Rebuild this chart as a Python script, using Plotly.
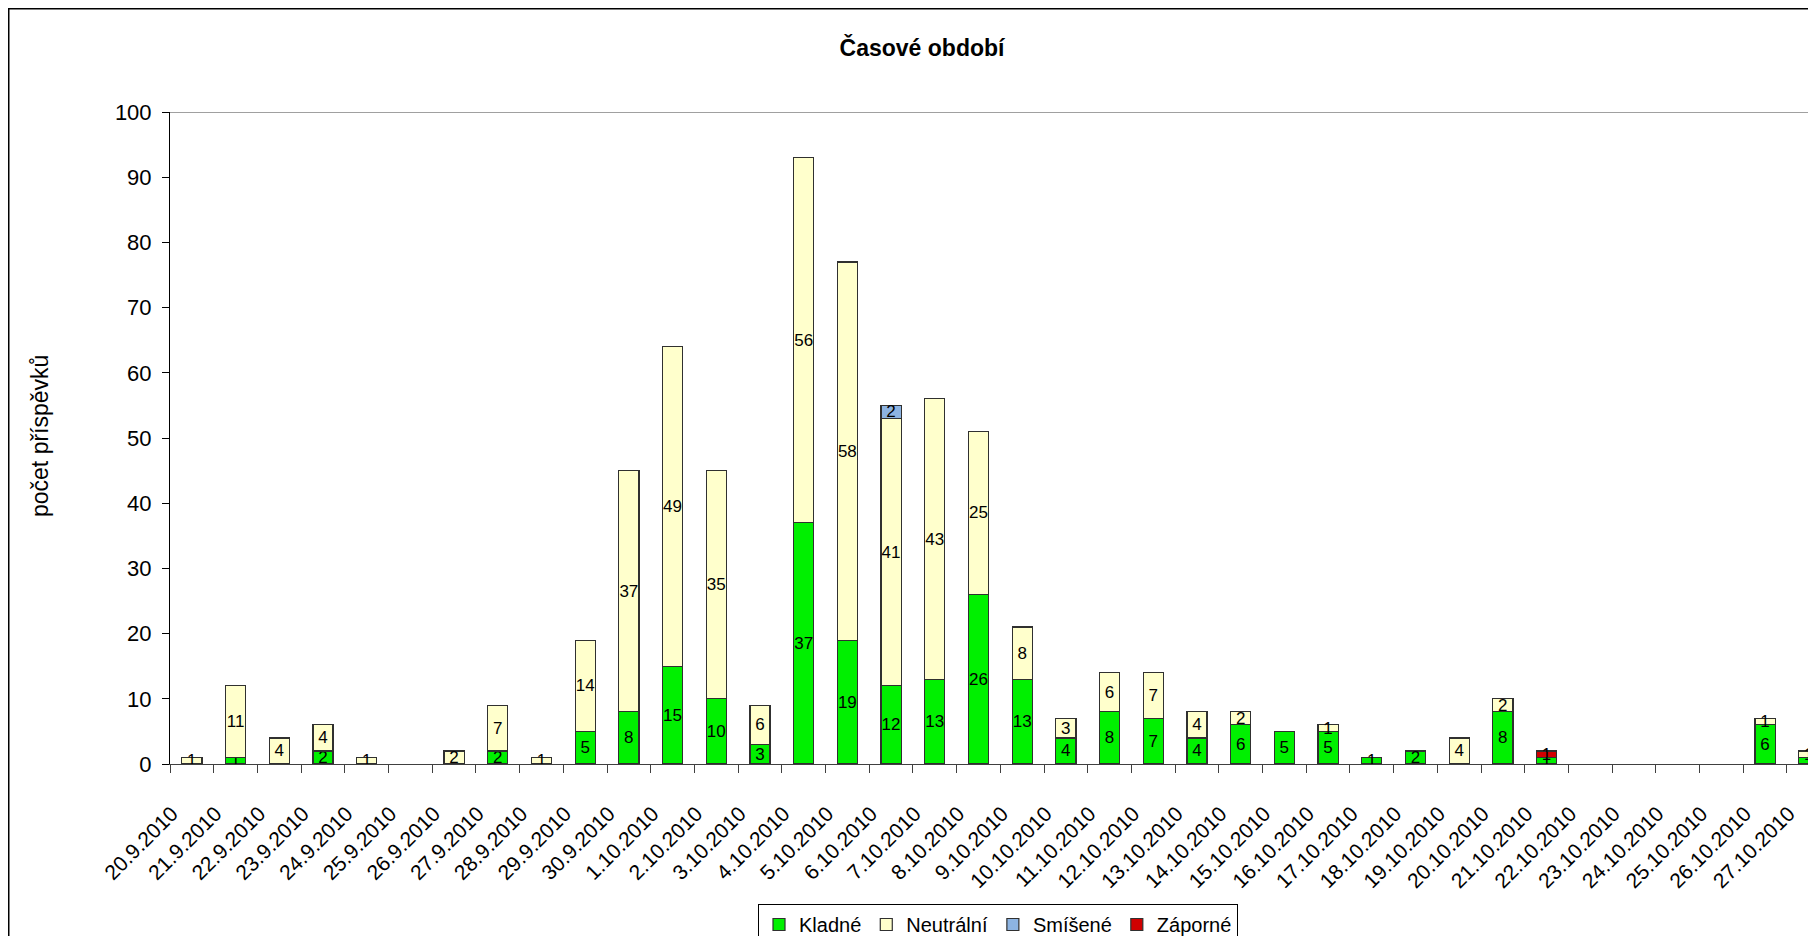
import plotly.graph_objects as go

categories = ["20.9.2010", "21.9.2010", "22.9.2010", "23.9.2010", "24.9.2010", "25.9.2010",
              "26.9.2010", "27.9.2010", "28.9.2010", "29.9.2010", "30.9.2010",
              "1.10.2010", "2.10.2010", "3.10.2010", "4.10.2010", "5.10.2010", "6.10.2010",
              "7.10.2010", "8.10.2010", "9.10.2010", "10.10.2010", "11.10.2010", "12.10.2010",
              "13.10.2010", "14.10.2010", "15.10.2010", "16.10.2010", "17.10.2010", "18.10.2010",
              "19.10.2010", "20.10.2010", "21.10.2010", "22.10.2010", "23.10.2010", "24.10.2010",
              "25.10.2010", "26.10.2010", "27.10.2010"]

kladne    = [0, 1, 0, 2, 0, 0, 0, 2, 0, 5, 8, 15, 10, 3, 37, 19, 12, 13, 26, 13, 4, 8, 7, 4, 6, 5, 5, 1, 2, 0, 8, 1, 0, 0, 0, 0, 6, 1]
neutralni = [1, 11, 4, 4, 1, 0, 2, 7, 1, 14, 37, 49, 35, 6, 56, 58, 41, 43, 25, 8, 3, 6, 7, 4, 2, 0, 1, 0, 0, 4, 2, 0, 0, 0, 0, 0, 1, 1]
smisene   = [0] * 16 + [2] + [0] * 21
zaporne   = [0] * 31 + [1] + [0] * 6

series = [
    ("Kladné", kladne, "#00F000"),
    ("Neutrální", neutralni, "#FFFFCC"),
    ("Smíšené", smisene, "#8DB4E2"),
    ("Záporné", zaporne, "#D00000"),
]

FONT = "Liberation Sans, Arial, sans-serif"

fig = go.Figure()
for name, vals, color in series:
    fig.add_trace(go.Bar(
        x=categories,
        y=[v if v else None for v in vals],
        name=name,
        marker=dict(color=color, line=dict(color="#303030", width=1.2)),
        text=[str(v) if v else "" for v in vals],
        textposition="inside",
        insidetextanchor="middle",
        textangle=0,
        constraintext="none",
        textfont=dict(family=FONT, size=17, color="black"),
        hoverinfo="skip",
    ))

# the page body adds an 8px offset, so the figure covers page 8..1816 x 8..936
W, H = 1808, 928
L, T = 162, 104
plot_bottom = 756
R = 0
B = H - plot_bottom
pw = W - L - R
ph = plot_bottom - T
step = 43.7

fig.update_layout(
    width=W, height=H, autosize=False,
    template="none",
    barmode="stack",
    bargap=0.54,
    paper_bgcolor="white",
    plot_bgcolor="white",
    margin=dict(l=L, r=R, t=T, b=B, pad=0, autoexpand=False),
    font=dict(family=FONT, size=20, color="black"),
    title=dict(text="<b>Časové období</b>", x=914 / W, xanchor="center",
               y=1 - 40 / H, yanchor="middle",
               font=dict(family=FONT, size=23, color="black")),
    showlegend=True,
    legend=dict(orientation="h", x=(990 - L) / pw, xanchor="center",
                y=(plot_bottom - 896) / ph, yanchor="top",
                bordercolor="black", borderwidth=1, bgcolor="white",
                font=dict(family=FONT, size=20, color="black"),
                traceorder="normal", itemwidth=30),
    xaxis=dict(
        type="category",
        automargin=False,
        range=[-0.5, pw / step - 0.5],
        showgrid=False, zeroline=False,
        showline=True, linecolor="#404040", linewidth=1,
        ticks="outside", tickson="boundaries", ticklen=8, tickcolor="#404040",
        tickangle=-45,
        tickfont=dict(family=FONT, size=21, color="black"),
        ticklabelshift=-20, ticklabelstandoff=28,
    ),
    yaxis=dict(
        automargin=False,
        range=[0, 100], dtick=10,
        showgrid=False, zeroline=False,
        showline=True, linecolor="black", linewidth=1,
        ticks="outside", ticklen=7, tickcolor="black",
        tickfont=dict(family=FONT, size=22, color="black"),
        ticklabelstandoff=6,
    ),
    shapes=[
        dict(type="line", xref="paper", yref="y", x0=0, x1=1, y0=100, y1=100,
             line=dict(color="#808080", width=1.5)),
        dict(type="rect", xref="paper", yref="paper",
             x0=(0.75 - L) / pw, x1=1.2, y0=-0.6, y1=(plot_bottom - 0.75) / ph,
             line=dict(color="black", width=1.5), fillcolor="rgba(0,0,0,0)"),
    ],
    annotations=[
        dict(text="počet příspěvků", xref="paper", yref="paper",
             x=(32 - L) / pw, y=(plot_bottom - 428) / ph, xanchor="center", yanchor="middle",
             textangle=-90, showarrow=False,
             font=dict(family=FONT, size=23, color="black")),
    ],
)

fig.write_html("out.html")
